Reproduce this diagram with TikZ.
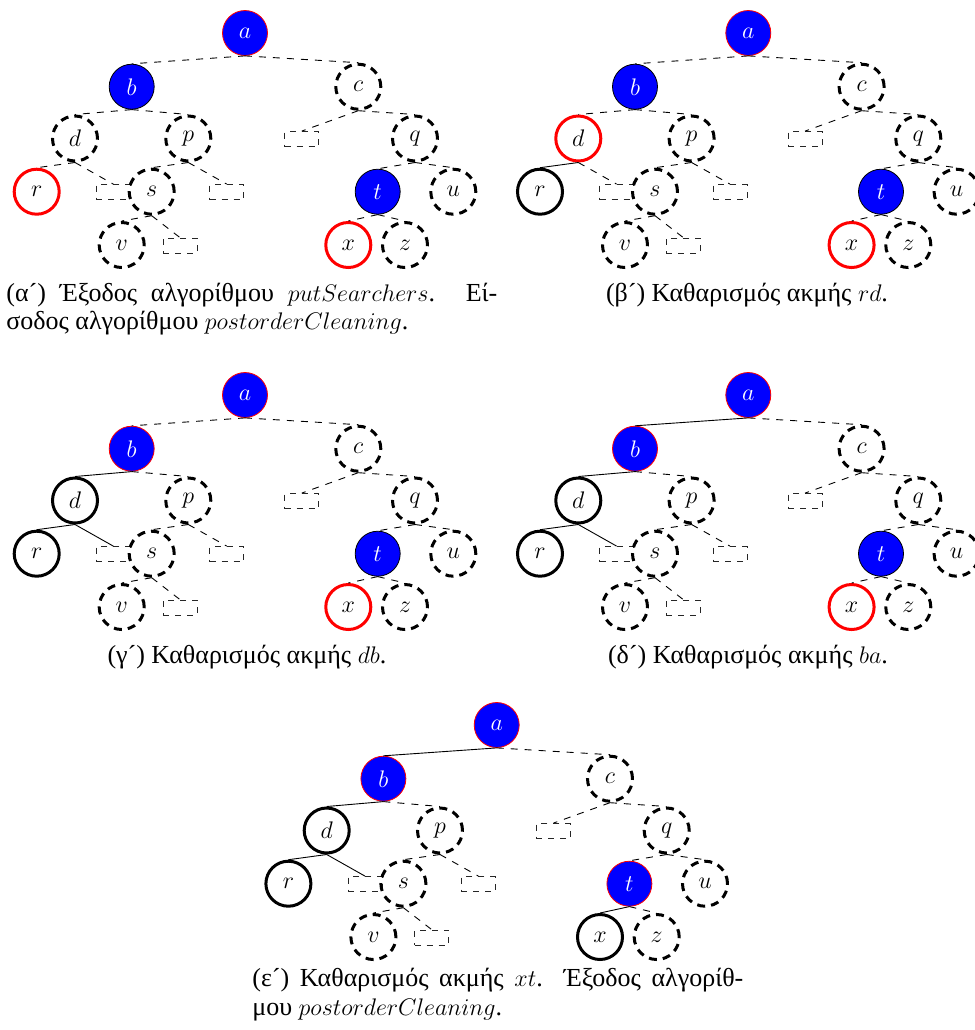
\documentclass[tikz,border=0pt]{standalone}
\usepackage{fontspec}
\setmainfont{Liberation Serif}
\newcommand\mytree[3]{%
\begin{scope}[shift={#2},#3]
\node[st-a] (#1a) at (0,0) {$a$};
\node[st-b] (#1b) at (-113.3,53.7) {$b$};
\node[st-c] (#1c) at (113.3,53.7) {$c$};
\node[st-d] (#1d) at (-170,105.5) {$d$};
\node[st-p] (#1p) at (-56.7,105.5) {$p$};
\node[emp] (#1e1) at (56.7,106) {};
\node[st-q] (#1q) at (170,105.5) {$q$};
\node[st-r] (#1r) at (-208.3,158.7) {$r$};
\node[emp] (#1e2) at (-131.7,159) {};
\node[st-s] (#1s) at (-93.3,158.7) {$s$};
\node[emp] (#1e3) at (-18.3,159) {};
\node[st-t] (#1t) at (132.7,158.7) {$t$};
\node[st-u] (#1u) at (208.3,158.7) {$u$};
\node[st-v] (#1v) at (-123.3,212) {$v$};
\node[emp] (#1e4) at (-65,212.5) {};
\node[st-x] (#1x) at (103.3,212) {$x$};
\node[st-z] (#1z) at (160,212) {$z$};
\path[e-ab] (#1a.south) -- (#1b.north);
\path[dedge] (#1a.south) -- (#1c.north);
\path[e-bd] (#1b.south) -- (#1d.north);
\path[dedge] (#1b.south) -- (#1p.north);
\path[dedge] (#1c.south) -- (#1e1.north);
\path[dedge] (#1c.south) -- (#1q.north);
\path[e-dr] (#1d.south) -- (#1r.north);
\path[e-de] (#1d.south) -- (#1e2.north);
\path[dedge] (#1p.south) -- (#1s.north);
\path[dedge] (#1p.south) -- (#1e3.north);
\path[dedge] (#1q.south) -- (#1t.north);
\path[dedge] (#1q.south) -- (#1u.north);
\path[dedge] (#1s.south) -- (#1v.north);
\path[dedge] (#1s.south) -- (#1e4.north);
\path[e-tx] (#1t.south) -- (#1x.north);
\path[dedge] (#1t.south) -- (#1z.north);
\end{scope}}
\begin{document}
\begin{tikzpicture}[x=0.5pt,y=-0.5pt,
  every node/.style={font=\fontsize{13}{15.5}\selectfont},
  circ/.style={circle, minimum size=22.5pt, inner sep=0pt},
  blueR/.style={circ, fill=blue, draw=red, line width=0.4pt, text=white},
  blueK/.style={circ, fill=blue, draw=black, line width=0.4pt, text=white},
  dashc/.style={circ, draw=black, line width=1.5pt, dash pattern=on 4pt off 3pt},
  redc/.style={circ, draw=red, line width=1.5pt},
  blkc/.style={circ, draw=black, line width=1.5pt},
  emp/.style={rectangle, draw=black!85, line width=0.4pt, dash pattern=on 3pt off 3pt, minimum width=17pt, minimum height=7.5pt, inner sep=0pt},
  dedge/.style={draw=black, line width=0.45pt, dash pattern=on 3.5pt off 3.5pt},
  sedge/.style={draw=black, line width=0.45pt},
  st-a/.style={blueR}, st-b/.style={blueK}, st-c/.style={dashc},
  st-d/.style={dashc}, st-p/.style={dashc}, st-q/.style={dashc},
  st-r/.style={redc}, st-s/.style={dashc}, st-t/.style={blueK},
  st-u/.style={dashc}, st-v/.style={dashc}, st-x/.style={redc},
  st-z/.style={dashc},
  e-ab/.style={dedge}, e-bd/.style={dedge}, e-dr/.style={dedge},
  e-de/.style={dedge}, e-tx/.style={dedge},
  captxt/.style={inner sep=0pt, anchor=base west}]
\useasboundingbox (0,0) rectangle (975,1030);
% (alpha)
\mytree{A}{(245,33)}{}
\node[captxt] (capA1) at (6,301) {\makebox[245.5pt][s]{(α´) Έξοδος αλγορίθμου $putSearchers$. Εί-}};
\node[captxt] (capA2) at (6,329) {σοδος αλγορίθμου $postorderCleaning$.};
% (beta)
\mytree{B}{(748.3,33)}{st-d/.style={redc}, st-r/.style={blkc}, e-dr/.style={sedge}}
\node[captxt, anchor=base] (capB) at (747,301) {(β´) Καθαρισμός ακμής $rd$.};
% (gamma)
\mytree{C}{(245,395)}{st-b/.style={blueR}, st-d/.style={blkc}, st-r/.style={blkc},
  e-bd/.style={sedge}, e-dr/.style={sedge}, e-de/.style={sedge}}
\node[captxt, anchor=base] (capC) at (247,663) {(γ´) Καθαρισμός ακμής $db$.};
% (delta)
\mytree{D}{(748.3,395)}{st-b/.style={blueR}, st-d/.style={blkc}, st-r/.style={blkc},
  e-ab/.style={sedge}, e-bd/.style={sedge}, e-dr/.style={sedge}, e-de/.style={sedge}}
\node[captxt, anchor=base] (capD) at (748,663) {(δ´) Καθαρισμός ακμής $ba$.};
% (epsilon)
\mytree{E}{(496.7,725)}{st-b/.style={blueR}, st-d/.style={blkc}, st-r/.style={blkc},
  st-t/.style={blueR}, st-x/.style={blkc},
  e-ab/.style={sedge}, e-bd/.style={sedge}, e-dr/.style={sedge}, e-de/.style={sedge}, e-tx/.style={sedge}}
\node[captxt] (capE1) at (252,986) {\makebox[245.5pt][s]{(ε´) Καθαρισμός ακμής $xt$. Έξοδος αλγορίθ-}};
\node[captxt] (capE2) at (252,1015) {μου $postorderCleaning$.};
\end{tikzpicture}
\end{document}
